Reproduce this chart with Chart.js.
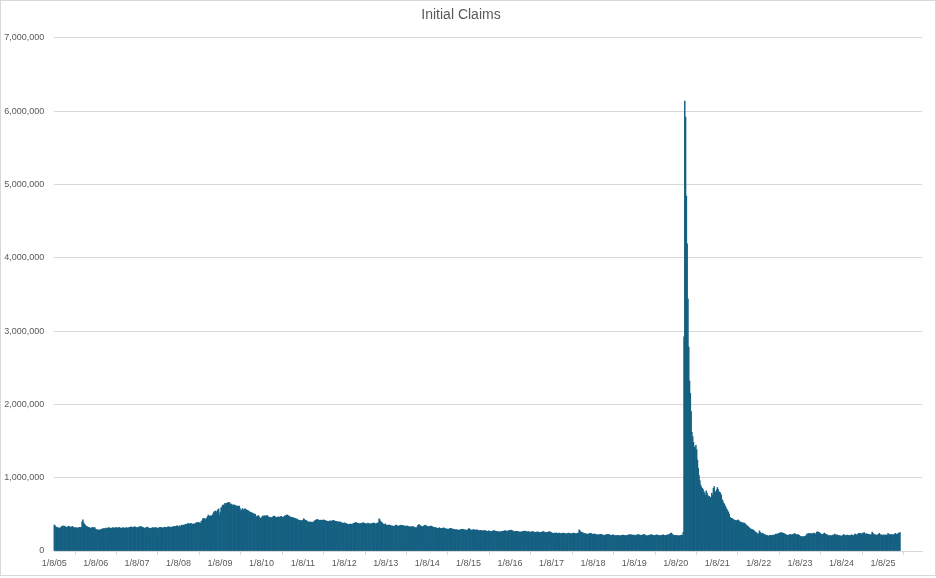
<!DOCTYPE html>
<html><head><meta charset="utf-8">
<script src="https://cdn.jsdelivr.net/npm/chart.js@4.4.1/dist/chart.umd.min.js"></script>
<style>
html,body{margin:0;padding:0;background:#fff;}
#wrap{position:relative;width:936px;height:578px;overflow:hidden;background:#fff;}
#frame{position:absolute;left:0;top:0;width:934px;height:574px;border:1px solid #d9d9d9;pointer-events:none;}
canvas{position:absolute;left:0;top:0;}
</style></head><body>
<div id="wrap"><canvas id="c" width="936" height="578"></canvas><div id="frame"></div></div>
<script>
// Weekly initial claims (thousands), weeks ending Saturday, first week ending 2005-01-08
const firstWeekEnding = [2005, 1, 8];
const claims2005 = [355,342,330,318,322,315,308,312,318,330,338,345,332,340,328,318,325,330,338,332,325,318,328,335,322,318,312,318,315,310,315,320,322,318,324,398,425,385,365,352,340,332,328,322,318,312,305,315,322,318,312,318];
const claims2006 = [300,292,285,288,290,282,288,295,298,302,305,300,308,312,305,310,318,315,312,310,308,315,318,312,310,318,320,315,312,318,322,314,310,312,316,318,312,308,315,318,312,314,320,322,325,328,322,318,324,330,328,322];
const claims2007 = [312,318,325,330,322,335,328,320,318,312,308,316,320,325,318,312,305,308,310,315,318,312,315,320,318,312,308,312,318,320,322,318,315,312,318,325,320,316,322,328,325,330,322,318,325,330,328,335,338,332,340,345];
const claims2008 = [325,335,345,330,350,355,348,352,355,360,365,368,372,375,365,372,378,370,365,368,372,365,380,385,385,392,390,380,375,405,410,440,445,440,430,440,450,470,490,475,475,478,480,485,510,530,540,545,525,545,560,575];
const claims2009 = [490,530,590,600,625,625,630,650,645,650,655,660,665,655,635,640,630,615,630,625,620,615,605,610,615,610,580,540,560,580,555,570,575,570,560,555,550,540,535,525,525,520,515,505,505,500,475,465,475,485,465,450];
const claims2010 = [445,455,470,480,472,480,475,478,485,470,465,458,452,455,460,462,472,478,470,460,455,460,465,458,462,470,472,460,455,465,475,480,488,495,485,478,470,465,458,460,455,452,448,445,440,438,430,425,418,420,415,410];
const claims2011 = [410,420,440,430,420,415,410,400,395,390,398,395,392,390,395,400,410,420,425,430,428,420,415,418,422,420,418,425,420,415,412,408,405,400,402,410,408,405,412,418,415,410,405,400,402,398,395,392,398,390,385,378,375];
const claims2012 = [385,380,375,370,368,360,362,365,368,365,362,370,375,380,385,390,382,378,375,372,370,375,378,382,385,382,378,372,365,375,380,370,372,368,372,375,378,380,382,372,368,375,380,385,440,425,405,392,380,370,365,362];
const claims2013 = [370,355,345,352,348,355,350,345,340,342,335,338,345,352,348,340,345,338,345,352,348,345,350,342,340,338,335,342,338,330,332,328,325,330,335,330,325,320,318,315,330,350,362,355,345,338,335,330,338,345,355,345];
const claims2014 = [340,335,330,328,335,340,338,330,325,322,318,320,315,310,305,312,318,308,302,305,310,315,312,305,300,302,298,295,300,305,310,305,300,298,295,292,290,288,292,285,282,285,290,292,295,298,292,290,285,288,282,280];
const claims2015 = [295,305,300,290,285,280,290,292,288,285,282,288,285,280,278,275,282,278,272,275,280,278,275,272,270,268,275,272,265,262,268,272,275,278,272,270,268,265,262,260,258,262,265,268,270,272,275,278,272,268,272,275];
const claims2016 = [278,282,285,280,275,270,265,262,268,265,270,265,262,258,255,260,262,265,268,270,272,265,258,262,265,260,255,258,262,265,262,258,255,252,256,258,262,255,250,252,255,258,262,265,258,255,252,250,255,258,262,260,258];
const claims2017 = [250,245,242,238,245,240,248,242,238,242,245,240,238,235,242,245,240,238,235,232,238,242,245,240,236,232,238,242,245,240,236,232,238,242,245,290,275,260,255,250,245,240,238,235,232,230,228,232,238,242,238,235];
const claims2018 = [225,228,232,230,225,222,220,218,222,226,228,225,220,218,215,212,218,222,225,228,225,222,218,215,212,218,220,215,212,208,210,212,215,210,205,208,212,215,218,215,212,210,208,212,215,218,222,225,222,218,215,218];
const claims2019 = [218,212,210,215,220,225,222,218,215,212,215,220,222,225,218,212,208,205,210,215,218,220,222,218,215,212,210,215,218,220,215,212,210,208,212,215,218,220,215,212,210,215,218,222,225,228,240,245,230,220,215,212];
const claims2020 = [212,208,215,210,205,208,212,215,218,212,255,2920,6137,5920,4840,4190,3440,2780,2320,2150,1900,1620,1560,1480,1420,1410,1440,1380,1240,1130,1030,960,900,870,855,840,810,790,760,820,790,760,740,745,730,725,790,760,855,880,810,800];
const claims2021 = [830,865,840,810,800,790,760,700,680,650,640,610,590,570,550,530,500,460,450,445,440,430,425,420,415,410,420,425,415,400,395,390,385,385,380,380,370,360,345,340,330,318,310,300,295,290,290,280,270,255,250,245];
const claims2022 = [225,235,275,255,240,232,245,232,225,222,218,212,210,205,208,212,215,210,212,218,215,212,228,230,230,228,238,242,248,250,246,245,242,238,232,225,220,215,212,218,225,222,220,222,225,226,238,230,228,218,220,225,215];
const claims2023 = [205,198,195,192,195,198,195,202,215,235,230,240,235,232,240,235,230,245,240,235,232,255,262,258,255,245,235,228,222,230,235,245,232,225,222,218,205,208,212,210,205,212,218,222,232,215,218,220,205,210,212,205];
const claims2024 = [202,190,215,222,220,212,205,215,218,210,212,212,210,222,215,208,210,232,225,218,222,230,242,238,235,238,225,245,238,250,235,232,235,230,228,228,222,218,225,258,242,228,220,222,218,215,222,228,242,222,220,218];
const claims2025 = [210,218,222,208,220,215,218,240,225,222,225,222,220,225,218,225,240,228,230,228,240,248,250];

const tickLabels = ['1/8/05','1/8/06','1/8/07','1/8/08','1/8/09','1/8/10','1/8/11','1/8/12','1/8/13','1/8/14','1/8/15','1/8/16','1/8/17','1/8/18','1/8/19','1/8/20','1/8/21','1/8/22','1/8/23','1/8/24','1/8/25'];
const yAxisMax = 7000000;
const yAxisStep = 1000000;
const chartTitle = 'Initial Claims';

const allClaimsK = [].concat(claims2005,claims2006,claims2007,claims2008,claims2009,claims2010,claims2011,claims2012,claims2013,claims2014,claims2015,claims2016,claims2017,claims2018,claims2019,claims2020,claims2021,claims2022,claims2023,claims2024,claims2025);

const DAY = 86400000;
const startMs = Date.UTC(firstWeekEnding[0], firstWeekEnding[1]-1, firstWeekEnding[2]);
const points = allClaimsK.map((v, i) => ({x: i*7, y: v*1000}));
const tickDays = tickLabels.map(s => {
  const [m, d, y] = s.split('/').map(Number);
  return Math.round((Date.UTC(2000+y, m-1, d) - startMs)/DAY);
});
const tickLabelByDay = {};
tickDays.forEach((d, i) => tickLabelByDay[d] = tickLabels[i]);

const FONT = "'Liberation Sans', Arial, sans-serif";
const TXT = '#595959';
const GRID = '#d9d9d9';

new Chart(document.getElementById('c'), {
  type: 'bar',
  data: {
    datasets: [{
      data: points,
      backgroundColor: '#156082',
      borderWidth: 0,
      barThickness: 0.82,
      clip: false
    }]
  },
  options: {
    responsive: false,
    animation: false,
    devicePixelRatio: 1,
    layout: {padding: {left: 0, right: 14, top: 0, bottom: 6.2}},
    plugins: {
      legend: {display: false},
      tooltip: {enabled: false},
      title: {
        display: true, text: chartTitle, color: TXT,
        font: {family: FONT, size: 14, weight: 'normal'},
        padding: {top: 7, bottom: 14}
      }
    },
    scales: {
      x: {
        type: 'linear',
        min: 0,
        max: 7649,
        offset: false,
        grid: {display: true, drawOnChartArea: false, drawTicks: true, tickLength: 4, color: GRID},
        border: {display: true, color: GRID},
        afterBuildTicks: (scale) => { scale.ticks = tickDays.map(v => ({value: v})); },
        ticks: {
          autoSkip: false, maxRotation: 0, minRotation: 0, color: TXT, padding: 3,
          font: {family: FONT, size: 9},
          callback: (v) => tickLabelByDay[v] ?? ''
        }
      },
      y: {
        min: 0,
        max: yAxisMax,
        grid: {color: GRID, drawTicks: false},
        border: {display: false},
        afterFit: (scale) => { scale.width = 54.3; },
        ticks: {
          stepSize: yAxisStep, color: TXT, padding: 10,
          font: {family: FONT, size: 9},
          callback: (v) => Number(v).toLocaleString('en-US')
        }
      }
    }
  }
});
</script>
</body></html>
